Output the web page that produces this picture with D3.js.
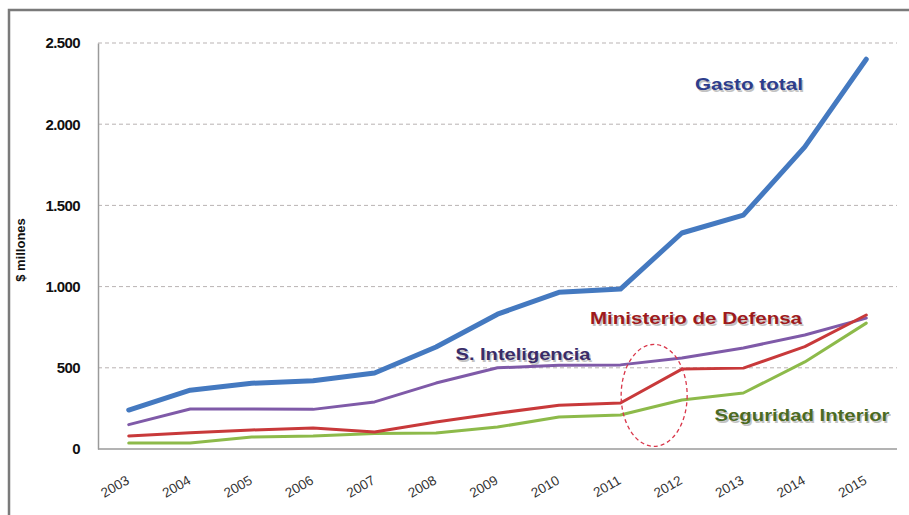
<!DOCTYPE html>
<html>
<head>
<meta charset="utf-8">
<script src="https://cdn.jsdelivr.net/npm/d3@7"></script>
<style>
  body { margin: 0; background: #fff; }
  svg { display: block; font-family: 'Liberation Sans', Arial, sans-serif; }
</style>
</head>
<body>
<svg id="chart" width="909" height="515"></svg>
<script>
// data ($ millones)
var years = ['2003','2004','2005','2006','2007','2008','2009','2010','2011','2012','2013','2014','2015'];
var gastoTotal   = [240, 362, 405, 420, 468, 628, 830, 965, 985, 1330, 1440, 1860, 2400];
var inteligencia = [150, 246, 246, 244, 290, 406, 500, 515, 518, 560, 622, 702, 806];
var defensa      = [ 80, 100, 117, 130, 105, 166, 220, 270, 283, 492, 498, 630, 825];
var seguridad    = [ 37,  37,  74,  80,  96,  98, 135, 197, 209, 302, 345, 536, 775];
var yTicks = [0, 500, 1000, 1500, 2000, 2500];

var series = [
  { name: 'S. Inteligencia', values: inteligencia, color: '#7f5aa8', width: 3,
    lx: 523, ly: 360, lw: 135, lcolor: '#3a2c68' },
  { name: 'Seguridad Interior', values: seguridad, color: '#8dba4a', width: 3,
    lx: 802, ly: 421, lw: 175, lcolor: '#4b6a22' },
  { name: 'Ministerio de Defensa', values: defensa, color: '#c8393a', width: 3,
    lx: 696, ly: 324, lw: 212, lcolor: '#9e1a1c' },
  { name: 'Gasto total', values: gastoTotal, color: '#4479c0', width: 5,
    lx: 749, ly: 90, lw: 108, lcolor: '#2d3d8c' }
];

var svg = d3.select('#chart');
var M = { left: 98, right: 897, top: 43, bottom: 449 };

// outer frame
svg.append('rect')
  .attr('x', 9).attr('y', 10)
  .attr('width', 920).attr('height', 520)
  .attr('fill', 'none')
  .attr('stroke', '#7a7a7a')
  .attr('stroke-width', 2.5);

var x = d3.scalePoint()
  .domain(years)
  .range([M.left, M.right])
  .padding(0.5);
var y = d3.scaleLinear()
  .domain([0, 2500])
  .range([M.bottom, M.top]);

// gridlines
svg.append('g')
  .selectAll('line')
  .data(yTicks.filter(function(d) { return d > 0; }))
  .enter().append('line')
  .attr('x1', M.left).attr('x2', M.right)
  .attr('y1', function(d) { return y(d); })
  .attr('y2', function(d) { return y(d); })
  .attr('stroke', '#b9b3b3')
  .attr('stroke-width', 1)
  .attr('stroke-dasharray', '4,3');

// y axis
var yAxis = svg.append('g')
  .attr('transform', 'translate(' + M.left + ',0)')
  .call(d3.axisLeft(y)
    .tickValues(yTicks)
    .tickSize(0)
    .tickPadding(18)
    .tickFormat(function(d) { return d3.format(',')(d).replace(/,/g, '.'); }));
yAxis.select('.domain').attr('stroke', '#9a9a9a').attr('stroke-width', 1.5);
yAxis.selectAll('text')
  .attr('fill', '#111')
  .style('font-size', '15px')
  .style('font-weight', 'bold')
  .style('letter-spacing', '-0.6px');

// x axis
var xAxis = svg.append('g')
  .attr('transform', 'translate(0,' + M.bottom + ')')
  .call(d3.axisBottom(x).tickSize(0).tickPadding(0));
xAxis.select('.domain').attr('stroke', '#9a9a9a').attr('stroke-width', 1.5)
  .attr('d', 'M' + M.left + ',0H' + M.right);
xAxis.selectAll('text')
  .attr('fill', '#333')
  .style('font-size', '13.5px')
  .attr('text-anchor', 'end')
  .attr('dy', 0)
  .attr('transform', 'translate(1,34) rotate(-30)');

// y title
svg.append('text')
  .attr('transform', 'translate(25,250) rotate(-90)')
  .attr('text-anchor', 'middle')
  .style('font-size', '13px')
  .style('font-weight', 'bold')
  .attr('fill', '#111')
  .text('$ millones');

// lines
var line = d3.line()
  .x(function(d, i) { return x(years[i]); })
  .y(function(d) { return y(d); });

svg.append('g')
  .selectAll('path')
  .data(series)
  .enter().append('path')
  .attr('d', function(s) { return line(s.values); })
  .attr('fill', 'none')
  .attr('stroke', function(s) { return s.color; })
  .attr('stroke-width', function(s) { return s.width; })
  .attr('stroke-linejoin', 'round')
  .attr('stroke-linecap', 'round');

// series labels, with the soft shadow of the original
var labels = svg.append('g');
labels.selectAll('text.shadow')
  .data(series)
  .enter().append('text')
  .attr('class', 'shadow')
  .attr('x', function(s) { return s.lx - s.lw / 2 + 1.5; })
  .attr('y', function(s) { return s.ly + 1.5; })
  .attr('textLength', function(s) { return s.lw; })
  .attr('lengthAdjust', 'spacingAndGlyphs')
  .style('font-size', '16px')
  .style('font-weight', 'bold')
  .attr('fill', '#9a9a9a')
  .attr('opacity', 0.6)
  .text(function(s) { return s.name; });
labels.selectAll('text.lab')
  .data(series)
  .enter().append('text')
  .attr('class', 'lab')
  .attr('x', function(s) { return s.lx - s.lw / 2; })
  .attr('y', function(s) { return s.ly; })
  .attr('textLength', function(s) { return s.lw; })
  .attr('lengthAdjust', 'spacingAndGlyphs')
  .style('font-size', '16px')
  .style('font-weight', 'bold')
  .attr('fill', function(s) { return s.lcolor; })
  .text(function(s) { return s.name; });

// dashed ellipse marking 2011-2012
svg.append('ellipse')
  .attr('cx', (x('2011') + x('2012')) / 2 + 3)
  .attr('cy', y(330))
  .attr('rx', 33)
  .attr('ry', 51)
  .attr('fill', 'none')
  .attr('stroke', '#d9364a')
  .attr('stroke-width', 1.3)
  .attr('stroke-dasharray', '4,3');
</script>
</body>
</html>
